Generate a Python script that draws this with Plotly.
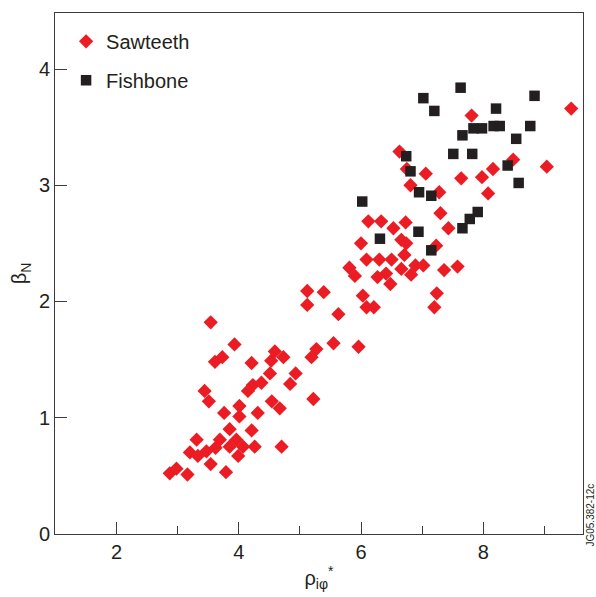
import plotly.graph_objects as go

# Sawteeth (red diamonds)
saw_x = [9.44, 7.81, 6.63, 6.75, 7.06, 6.81, 7.28, 7.64, 7.98, 8.16, 8.49, 9.04, 8.08,
         7.30, 7.43, 6.12, 6.33, 6.53, 6.73, 6.00, 6.66, 6.74, 6.71, 7.23, 6.09, 6.30,
         6.50, 6.66, 6.89, 7.02, 6.82, 6.41, 6.27, 6.48, 7.36, 7.58, 7.24, 7.20, 6.03,
         6.09, 6.21, 5.81, 5.90, 5.12, 5.39, 5.12, 5.63, 3.54, 3.93, 5.55, 5.96, 4.59,
         4.73, 5.27, 5.19, 3.73, 3.61, 4.21, 4.53, 5.22, 4.51, 4.93, 4.84, 4.23, 4.37,
         4.15, 3.44, 3.51, 4.54, 4.67, 4.01, 4.01, 3.76, 4.31, 3.85, 4.21, 3.69, 3.96,
         4.07, 4.26, 4.70, 3.99, 3.54, 3.79, 3.47, 3.31, 3.20, 3.33, 3.85, 3.62, 2.87,
         2.98, 3.16]
saw_y = [3.66, 3.60, 3.29, 3.14, 3.10, 3.00, 2.94, 3.06, 3.07, 3.14, 3.22, 3.16, 2.93,
         2.76, 2.63, 2.69, 2.69, 2.63, 2.68, 2.50, 2.53, 2.50, 2.40, 2.48, 2.36, 2.36,
         2.36, 2.28, 2.31, 2.31, 2.23, 2.24, 2.21, 2.15, 2.27, 2.30, 2.07, 1.95, 2.05,
         1.95, 1.95, 2.29, 2.22, 2.09, 2.08, 1.97, 1.89, 1.82, 1.63, 1.64, 1.61, 1.57,
         1.52, 1.59, 1.52, 1.52, 1.48, 1.47, 1.49, 1.16, 1.38, 1.38, 1.29, 1.28, 1.30,
         1.23, 1.23, 1.14, 1.14, 1.08, 1.10, 1.01, 1.04, 1.04, 0.90, 0.89, 0.81, 0.81,
         0.75, 0.75, 0.75, 0.67, 0.60, 0.53, 0.71, 0.81, 0.70, 0.67, 0.75, 0.74, 0.52,
         0.56, 0.51]

# Fishbone (black squares)
fish_x = [7.63, 7.02, 7.20, 8.84, 8.21, 7.84, 7.98, 8.17, 8.27, 7.66, 8.77, 8.54, 7.51,
          7.82, 6.74, 6.81, 8.40, 8.58, 6.95, 7.15, 6.02, 7.91, 7.78, 7.66, 6.94, 6.31,
          7.15]
fish_y = [3.84, 3.75, 3.64, 3.77, 3.66, 3.49, 3.49, 3.51, 3.51, 3.43, 3.51, 3.40, 3.27,
          3.27, 3.25, 3.12, 3.17, 3.02, 2.94, 2.91, 2.86, 2.77, 2.71, 2.63, 2.60, 2.54,
          2.44]

RED = "#ec1c24"
BLACK = "#231f20"
AXIS = "#3c3c3c"
FONT = "Liberation Sans, Arial, sans-serif"

fig = go.Figure()
fig.add_trace(go.Scatter(x=saw_x, y=saw_y, mode="markers", name="Sawteeth",
                         legendgroup="a",
                         marker=dict(symbol="diamond", size=11, color=RED,
                                     line=dict(width=0))))
fig.add_trace(go.Scatter(x=fish_x, y=fish_y, mode="markers", name="Fishbone",
                         legendgroup="b",
                         marker=dict(symbol="square", size=10.5, color=BLACK,
                                     line=dict(width=0))))

fig.update_layout(
    width=596, height=597,
    margin=dict(l=55, r=12, t=13, b=55),
    paper_bgcolor="white", plot_bgcolor="white",
    font=dict(family=FONT, size=20, color=BLACK),
    showlegend=True,
    legend=dict(x=0.021, y=0.983, xanchor="left", yanchor="top",
                bgcolor="rgba(0,0,0,0)", font=dict(size=20, color=BLACK),
                traceorder="grouped", tracegroupgap=10),
    annotations=[dict(text="JG05.382-12c", x=1.0138, y=0.036, xref="paper", yref="paper",
                      textangle=-90, showarrow=False, font=dict(size=10, color=BLACK),
                      xanchor="center", yanchor="middle")],
)

fig.update_xaxes(
    range=[0.992, 9.633], showline=True, mirror=True, linecolor=AXIS, linewidth=1,
    showgrid=False, zeroline=False,
    ticks="inside", ticklen=12, tickcolor=AXIS, tickwidth=1, tick0=0, dtick=2,
    tickfont=dict(size=20, color=BLACK),
    minor=dict(ticks="inside", ticklen=8, tickcolor=AXIS, dtick=1, tick0=0, showgrid=False),
    title=dict(text="ρ<sub>iφ</sub><sup>*</sup>", font=dict(size=20, color=BLACK), standoff=8),
)
fig.update_yaxes(
    range=[-0.002, 4.483], showline=True, mirror=True, linecolor=AXIS, linewidth=1,
    showgrid=False, zeroline=False,
    ticks="inside", ticklen=12, tickcolor=AXIS, tickwidth=1, tick0=0, dtick=1,
    tickfont=dict(size=20, color=BLACK),
    title=dict(text="β<sub>N</sub>", font=dict(size=20, color=BLACK), standoff=6),
)

fig.write_html("out.html")
